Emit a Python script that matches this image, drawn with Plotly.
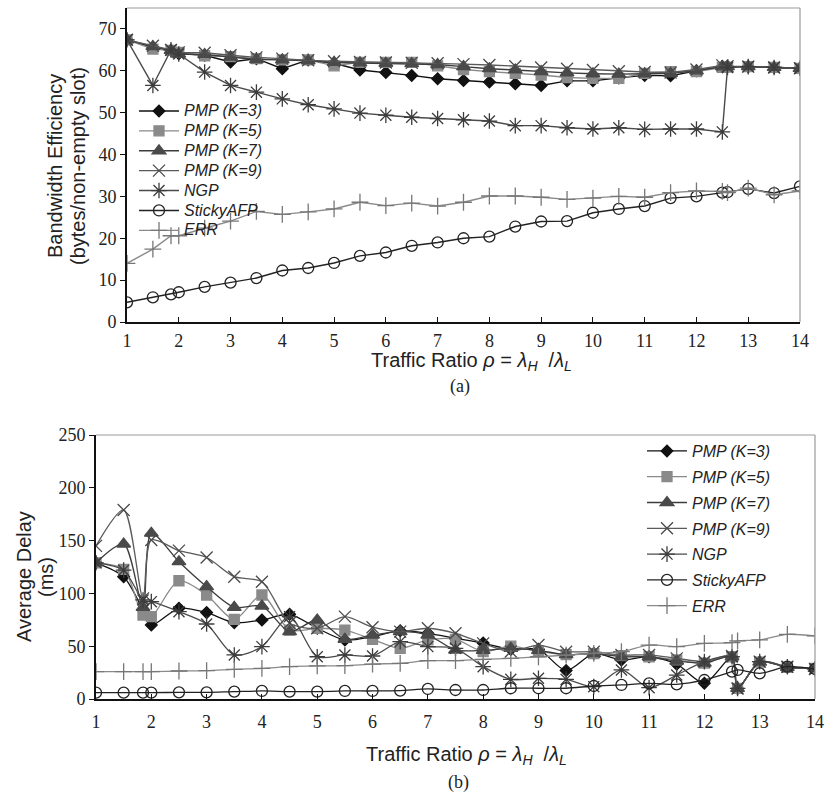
import plotly.graph_objects as go

W, H = 829, 795

x_vals = [1, 1.5, 1.85, 2, 2.5, 3, 3.5, 4, 4.5, 5, 5.5, 6, 6.5, 7, 7.5, 8, 8.5, 9, 9.5, 10,
          10.5, 11, 11.5, 12, 12.5, 12.6, 13, 13.5, 14]

series_names = ["PMP (K=3)", "PMP (K=5)", "PMP (K=7)", "PMP (K=9)", "NGP", "StickyAFP", "ERR"]

# (a) Bandwidth efficiency (bytes/non-empty slot)
bw_k3 = [67.4, 65.6, 64.9, 64.1, 63.7, 62.1, 62.9, 60.5, 62.6, 61.8, 60.2, 59.6, 58.9, 58.1, 57.7,
         57.3, 56.9, 56.5, 57.6, 57.6, 58.3, 58.9, 58.8, 60.0, 61.0, 61.0, 61.0, 60.8, 60.6]
bw_k5 = [67.4, 65.2, 64.9, 64.4, 63.6, 63.4, 62.9, 62.6, 62.6, 61.2, 62.0, 62.0, 62.0, 61.2, 60.3,
         59.8, 59.4, 59.0, 58.4, 58.2, 58.2, 59.4, 59.8, 59.8, 60.8, 60.9, 61.0, 60.8, 60.6]
bw_k7 = [67.4, 65.8, 64.9, 64.0, 63.9, 63.3, 62.7, 62.6, 62.4, 62.0, 61.9, 61.8, 61.7, 61.5, 61.0,
         60.5, 60.2, 59.8, 59.5, 59.3, 59.2, 59.3, 59.4, 60.0, 61.0, 61.0, 61.0, 60.8, 60.6]
bw_k9 = [67.4, 66.0, 65.0, 64.4, 64.3, 63.7, 63.2, 62.9, 62.5, 62.3, 62.1, 62.0, 61.9, 61.8, 61.6,
         61.4, 61.1, 60.8, 60.5, 60.2, 59.9, 59.7, 59.6, 60.3, 61.3, 61.1, 61.0, 60.8, 60.6]
bw_ngp = [67.4, 56.5, 65.0, 64.0, 59.7, 56.5, 54.9, 53.3, 51.9, 50.9, 49.9, 49.4, 48.9, 48.6, 48.3,
          48.0, 46.9, 46.9, 46.4, 46.1, 46.4, 46.0, 46.1, 46.1, 45.4, 60.8, 61.0, 60.8, 60.6]
bw_sticky = [4.7, 5.9, 6.6, 7.1, 8.4, 9.4, 10.5, 12.3, 12.9, 14.1, 15.8, 16.6, 18.2, 19.0, 20.0,
             20.4, 22.8, 24.0, 24.1, 26.1, 27.0, 27.7, 29.6, 30.0, 30.9, 31.0, 31.8, 30.8, 32.4]
bw_err = [14.0, 17.4, 20.6, 20.6, 22.4, 24.1, 26.4, 25.7, 26.3, 27.0, 28.6, 27.8, 28.4, 27.7, 28.6,
          30.1, 30.1, 29.8, 29.3, 29.6, 30.0, 29.8, 30.9, 31.3, 31.2, 30.9, 32.0, 30.4, 31.3]

# (b) Average delay (ms)
dl_k3 = [129, 115.8, 84.3, 70, 85.9, 81.8, 72.3, 74.8, 80.2, 67, 55.9, 59, 64.7, 62.2, 57.5,
         53, 47, 47, 27, 43, 37, 40, 33, 15, 40, 10, 35, 30, 29]
dl_k5 = [129, 122.8, 79.5, 78, 112, 98.5, 75.4, 98.5, 65.3, 67, 65.3, 56.5, 48, 55.9, 56.5,
         45, 50, 45, 42, 43, 41, 40, 37, 34, 40, 10, 35, 30, 29]
dl_k7 = [129, 146.8, 86.8, 157, 130, 106.4, 86.8, 88, 63.8, 74.8, 56.5, 60.6, 63.8, 60.6, 46.4,
         46, 48, 46, 42, 43, 40, 40, 36, 34, 40, 10, 35, 30, 29]
dl_k9 = [145, 179, 95.3, 150.6, 140.5, 134, 115.8, 111, 72, 67, 78, 68, 63.8, 67, 62.2,
         52.7, 45, 51.1, 44.8, 44.8, 41.7, 41.7, 38.5, 35.4, 40.7, 10, 35.4, 30.6, 28.4]
dl_ngp = [129, 122, 93.8, 92.2, 82.7, 71, 41.7, 49.6, 78, 40, 41.7, 40.7, 54.3, 49.6, 48,
          30.6, 18.6, 19.6, 18.6, 11.7, 27.5, 10.7, 22.7, 35.4, 40, 10, 35.4, 30.6, 28.4]
dl_sticky = [6, 6, 6, 6, 6.3, 6.3, 7, 7.6, 7, 7, 7.6, 7.6, 8, 9.5, 8.5,
             8.5, 10.2, 10.2, 10.2, 12.3, 13.3, 14.8, 13.9, 18, 25.9, 27.5, 24.3, 30.6, 28.4]
dl_err = [25.9, 25.9, 25.9, 25.9, 26.5, 26.8, 28.1, 29, 30.6, 31.3, 31.6, 33.1, 33.8, 36.3, 36.3,
          37.6, 38.5, 40, 41.5, 43.2, 44.8, 51.1, 49.6, 52.7, 53.3, 55, 55.9, 61.2, 59.7]

x_ticks = list(range(1, 15))
bw_ticks = [0, 10, 20, 30, 40, 50, 60, 70]
dl_ticks = [0, 50, 100, 150, 200, 250]

styles = [
    dict(color="#111111", symbol="diamond", size=9, mcolor="#111111"),
    dict(color="#8a8a8a", symbol="square", size=10, mcolor="#8a8a8a"),
    dict(color="#3c3c3c", symbol="triangle-up", size=12, mcolor="#4a4a4a"),
    dict(color="#5a5a5a", symbol="x-thin-open", size=12, mcolor="#4a4a4a"),
    dict(color="#4a4a4a", symbol="asterisk-open", size=13, mcolor="#3c3c3c"),
    dict(color="#222222", symbol="circle-open", size=11, mcolor="#222222"),
    dict(color="#8a8a8a", symbol="cross-thin-open", size=12, mcolor="#777777"),
]

fig = go.Figure()

top_data = [bw_k3, bw_k5, bw_k7, bw_k9, bw_ngp, bw_sticky, bw_err]
bot_data = [dl_k3, dl_k5, dl_k7, dl_k9, dl_ngp, dl_sticky, dl_err]

for i, (name, ys) in enumerate(zip(series_names, top_data)):
    s = styles[i]
    fig.add_trace(go.Scatter(
        x=x_vals, y=ys, mode="lines+markers",
        name="<span style='font-size:16px'>" + name + "</span>",
        line=dict(color=s["color"], width=1.4),
        marker=dict(symbol=s["symbol"], size=s["size"], color=s["mcolor"],
                    line=dict(color=s["mcolor"], width=1.3)),
        xaxis="x", yaxis="y", legend="legend",
    ))

for i, (name, ys) in enumerate(zip(series_names, bot_data)):
    s = styles[i]
    fig.add_trace(go.Scatter(
        x=x_vals, y=ys, mode="lines+markers", name=name,
        line=dict(color=s["color"], width=1.3, shape="spline", smoothing=0.8),
        marker=dict(symbol=s["symbol"], size=s["size"], color=s["mcolor"],
                    line=dict(color=s["mcolor"], width=1.3)),
        xaxis="x2", yaxis="y2", legend="legend2", legendgroup="g%d" % i,
    ))

def px_x(p):
    return p / W

def px_y(p):
    return 1 - p / H

tick_font = dict(family="Liberation Serif", size=18, color="#222")
axis_common = dict(showgrid=False, zeroline=False, showline=True, linecolor="#111",
                   linewidth=2, tickfont=tick_font, tickcolor="#111", ticklen=5, tickwidth=1.2,
                   automargin=False)

fig.update_layout(
    width=W, height=H,
    margin=dict(l=0, r=0, t=0, b=0, autoexpand=False),
    paper_bgcolor="white", plot_bgcolor="white",
    xaxis=dict(domain=[px_x(127), px_x(800)], range=[1, 14], tickvals=x_ticks,
               ticks="inside", anchor="y", ticklabelstandoff=1, **axis_common),
    yaxis=dict(domain=[px_y(322), px_y(8)], range=[0, 75], tickvals=bw_ticks,
               ticks="outside", anchor="x", **axis_common),
    xaxis2=dict(domain=[px_x(96), px_x(815)], range=[1, 14], tickvals=x_ticks,
                ticks="inside", anchor="y2", ticklabelstandoff=5, **axis_common),
    yaxis2=dict(domain=[px_y(699), px_y(435)], range=[0, 250], tickvals=dl_ticks,
                ticks="outside", anchor="x2", **axis_common),
    legend=dict(x=px_x(134), y=px_y(96), xanchor="left", yanchor="top",
                bgcolor="rgba(0,0,0,0)", itemwidth=40, tracegroupgap=0,
                font=dict(family="Liberation Sans", size=13, color="#222", style="italic")),
    legend2=dict(x=px_x(642), y=px_y(434), xanchor="left", yanchor="top",
                 bgcolor="rgba(0,0,0,0)", itemwidth=40, tracegroupgap=2,
                 traceorder="grouped",
                 font=dict(family="Liberation Sans", size=16, color="#222", style="italic")),
    showlegend=True,
    hovermode=False,
)

# frame (top/right borders in grey)
for (x0, x1, y0, y1) in [(127, 800, 8, 322), (96, 815, 435, 699)]:
    fig.add_shape(type="line", xref="paper", yref="paper",
                  x0=px_x(x0), x1=px_x(x1), y0=px_y(y0), y1=px_y(y0),
                  line=dict(color="#999", width=1.2))
    fig.add_shape(type="line", xref="paper", yref="paper",
                  x0=px_x(x1), x1=px_x(x1), y0=px_y(y0), y1=px_y(y1),
                  line=dict(color="#999", width=1.2))

title_font = dict(family="Liberation Sans", size=20, color="#222")
xtitle = "Traffic Ratio <i>ρ</i> = <i>λ</i><sub><i>H</i></sub>  /<i>λ</i><sub><i>L</i></sub>"
ann = [
    dict(x=px_x(55), y=px_y(166), text="Bandwidth Efficiency", textangle=-90),
    dict(x=px_x(78), y=px_y(166), text="(bytes/non-empty slot)", textangle=-90),
    dict(x=px_x(471), y=px_y(361), text=xtitle),
    dict(x=px_x(24), y=px_y(577), text="Average Delay", textangle=-90),
    dict(x=px_x(46), y=px_y(577), text="(ms)", textangle=-90),
    dict(x=px_x(466), y=px_y(755), text=xtitle),
]
for a in ann:
    fig.add_annotation(xref="paper", yref="paper", xanchor="center", yanchor="middle",
                       showarrow=False, font=title_font, **a)
for txt, xx, yy in [("(a)", 460, 386), ("(b)", 458, 782)]:
    fig.add_annotation(xref="paper", yref="paper", x=px_x(xx), y=px_y(yy), text=txt,
                       showarrow=False, xanchor="center", yanchor="middle",
                       font=dict(family="Liberation Serif", size=18, color="#222"))

fig.write_html("out.html", config={"displayModeBar": False},
               post_script="document.body.style.margin='0px';document.body.style.padding='0px';")
